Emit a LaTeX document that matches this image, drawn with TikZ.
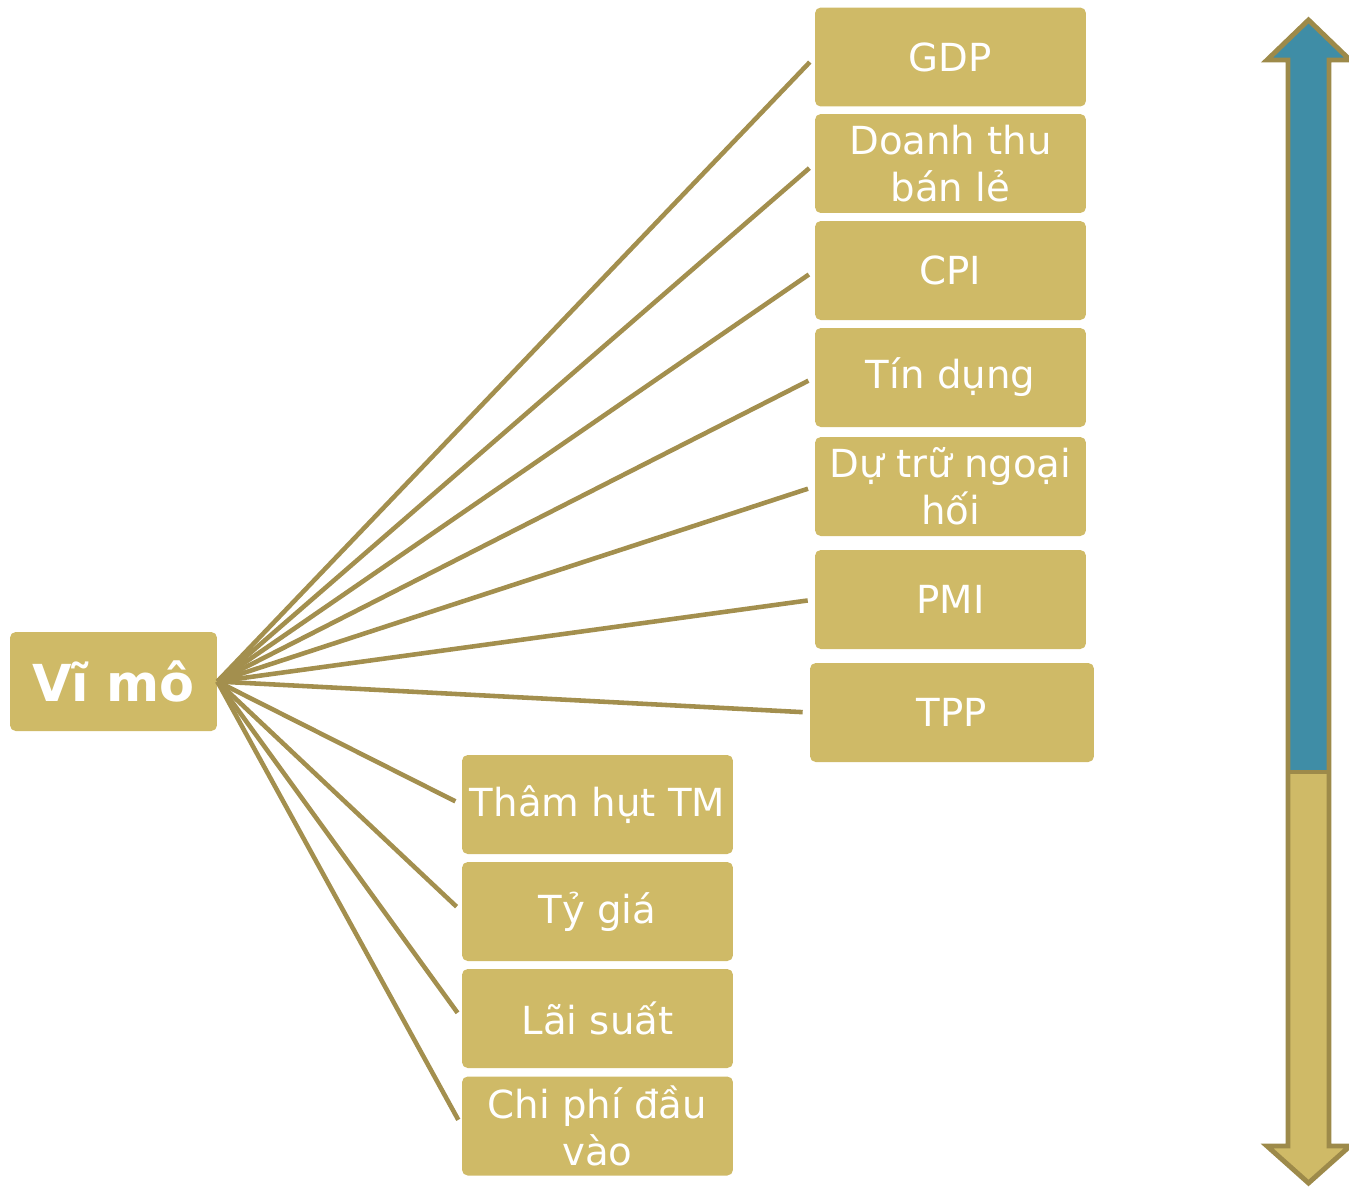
\documentclass[tikz,border=0pt]{standalone}
\usepackage{fontspec}
\setmainfont{DejaVu Sans}
\definecolor{boxgold}{HTML}{CFBA67}
\definecolor{linegold}{HTML}{A38F4E}
\definecolor{arrowblue}{HTML}{3F8DA6}
\definecolor{arrowedge}{HTML}{9D8A4A}

\begin{document}
\begin{tikzpicture}[
  x=0.02cm, y=-0.02cm,
  item/.style={rectangle, fill=boxgold, rounded corners=3.2pt, text=white,
    minimum width=5.42cm, minimum height=1.98cm, inner sep=0pt, align=center,
    font=\fontsize{22}{26.6}\selectfont},
  root/.style={item, minimum width=4.14cm, font=\fontsize{29}{35}\selectfont\bfseries},
  link/.style={draw=linegold, line width=2.6pt, shorten >=4pt}
]
\useasboundingbox (0,0) rectangle (1349,1188);

% main node
\node[root] (vimo) at (113.5,681.5) {Vĩ mô};

% right column
\node[item] (gdp) at (950.5,57) {GDP};
\node[item] (doanhthu) at (950.5,163.5) {Doanh thu\\bán lẻ};
\node[item] (cpi) at (950.5,270.5) {CPI};
\node[item] (tindung) at (950.5,377.5) {Tín dụng};
\node[item] (dutru) at (950.5,486.5) {Dự trữ ngoại\\hối};
\node[item] (pmi) at (950.5,599.5) {PMI};
\node[item, minimum width=5.68cm] (tpp) at (952,712.5) {TPP};

% left column
\node[item] (thamhut) at (597.5,804.5) {Thâm hụt TM};
\node[item] (tygia) at (597.5,911.5) {Tỷ giá};
\node[item] (laisuat) at (597.5,1018.5) {Lãi suất};
\node[item] (chiphi) at (597.5,1126) {Chi phí đầu\\vào};

% connectors
\foreach \n in {gdp,doanhthu,cpi,tindung,dutru,pmi,tpp,thamhut,tygia,laisuat,chiphi}
  \draw[link] (vimo.east) -- (\n.west);

% double arrow on the right
\fill[arrowblue] (1308.5,20) -- (1350,60) -- (1329,60) -- (1329,772)
  -- (1288,772) -- (1288,60) -- (1267,60) -- cycle;
\fill[boxgold] (1288,772) -- (1329,772) -- (1329,1146) -- (1350,1146)
  -- (1308.5,1183) -- (1267,1146) -- (1288,1146) -- cycle;
\draw[arrowedge, line width=2.8pt] (1308.5,20) -- (1350,60) -- (1329,60)
  -- (1329,1146) -- (1350,1146) -- (1308.5,1183) -- (1267,1146)
  -- (1288,1146) -- (1288,60) -- (1267,60) -- cycle;
\draw[arrowedge, line width=2.8pt] (1288,772) -- (1329,772);
\end{tikzpicture}
\end{document}
